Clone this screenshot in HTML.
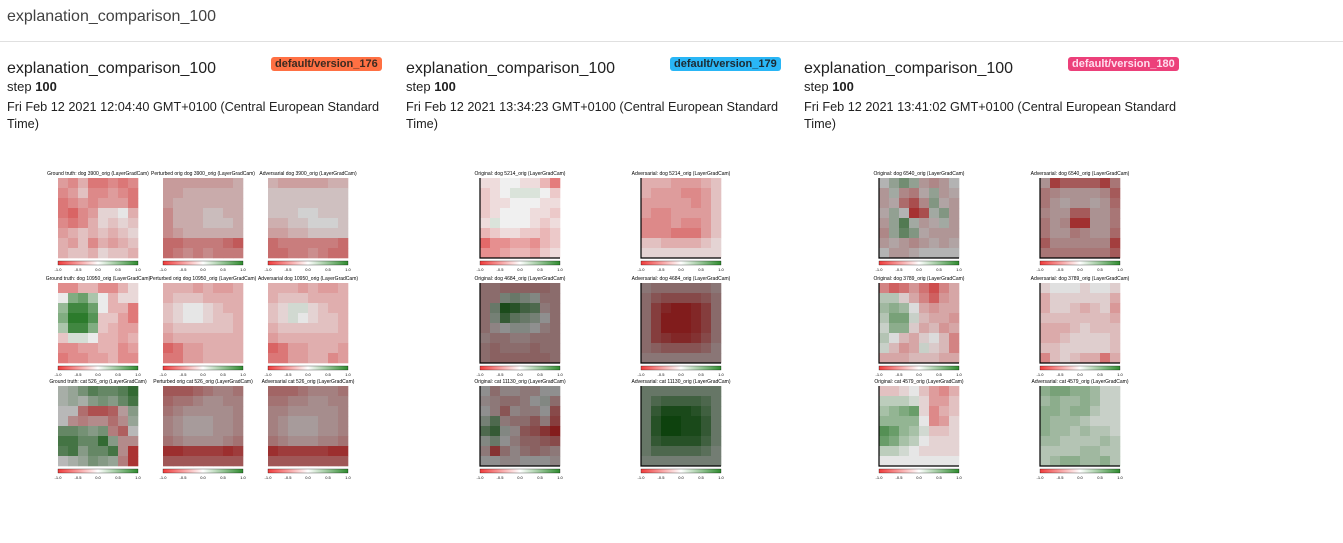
<!DOCTYPE html>
<html><head><meta charset="utf-8">
<style>
body{margin:0;width:1343px;height:543px;background:#fff;font-family:"Liberation Sans",sans-serif;color:#212121;position:relative;overflow:hidden}
.hdr{position:absolute;left:7px;top:8px;font-size:16px;color:#424242}
.div{position:absolute;left:0;top:41px;width:1343px;height:1px;background:#e0e0e0}
.card{position:absolute;top:58px;width:392px}
.ttl{position:absolute;left:0;top:2px;font-size:16px;color:#212121;white-space:nowrap}
.badge{position:absolute;top:-1px;height:14px;line-height:14px;padding:0 4px;border-radius:3px;font-size:11px;font-weight:bold;white-space:nowrap}
.step{position:absolute;left:0;top:21px;font-size:13px}
.date{position:absolute;left:0;top:41px;font-size:12.7px;line-height:17px;width:392px}
svg{position:absolute;left:0;top:0}
</style></head><body>
<div class="hdr">explanation_comparison_100</div>
<div class="div"></div>

<div class="card" style="left:7px">
 <div class="ttl">explanation_comparison_100</div>
 <div class="badge" style="left:264px;background:#ff7043;color:#3b2a20">default/version_176</div>
 <div class="step">step <b>100</b></div>
 <div class="date">Fri Feb 12 2021 12:04:40 GMT+0100 (Central European Standard Time)</div>
</div>
<div class="card" style="left:406px">
 <div class="ttl">explanation_comparison_100</div>
 <div class="badge" style="left:264px;background:#29b6f6;color:#1c2a33">default/version_179</div>
 <div class="step">step <b>100</b></div>
 <div class="date">Fri Feb 12 2021 13:34:23 GMT+0100 (Central European Standard Time)</div>
</div>
<div class="card" style="left:804px">
 <div class="ttl">explanation_comparison_100</div>
 <div class="badge" style="left:264px;background:#ec407a;color:#fde">default/version_180</div>
 <div class="step">step <b>100</b></div>
 <div class="date">Fri Feb 12 2021 13:41:02 GMT+0100 (Central European Standard Time)</div>
</div>

<svg id="maps" width="1343" height="543">
 <defs><linearGradient id="cb" x1="0" x2="1"><stop offset="0" stop-color="#f03c3c"/><stop offset="0.5" stop-color="#fff"/><stop offset="1" stop-color="#2e8b2e"/></linearGradient></defs>
</svg>
<script>
const titles=[
"Ground truth: dog 3900_orig (LayerGradCam)","Perturbed orig dog 3900_orig (LayerGradCam)","Adversarial dog 3900_orig (LayerGradCam)",
"Ground truth: dog 10950_orig (LayerGradCam)","Perturbed orig dog 10950_orig (LayerGradCam)","Adversarial dog 10950_orig (LayerGradCam)",
"Ground truth: cat 526_orig (LayerGradCam)","Perturbed orig cat 526_orig (LayerGradCam)","Adversarial cat 526_orig (LayerGradCam)",
"Original: dog 5214_orig (LayerGradCam)","Adversarial: dog 5214_orig (LayerGradCam)",
"Original: dog 4684_orig (LayerGradCam)","Adversarial: dog 4684_orig (LayerGradCam)",
"Original: cat 11130_orig (LayerGradCam)","Adversarial: cat 11130_orig (LayerGradCam)",
"Original: dog 6540_orig (LayerGradCam)","Adversarial: dog 6540_orig (LayerGradCam)",
"Original: dog 3789_orig (LayerGradCam)","Adversarial: dog 3789_orig (LayerGradCam)",
"Original: cat 4579_orig (LayerGradCam)","Adversarial: cat 4579_orig (LayerGradCam)"];
const brightness=[0.9,0.8,0.82,0.92,0.9,0.9,0.72,0.66,0.66,0.94,0.9,0.56,0.55,0.56,0.55,0.7,0.68,0.86,0.88,0.9,0.86];
const grids=[
[[-4,-5,-3,-6,-6,-5,-6,-5],[-5,-4,-2,-5,-5,-4,-5,-6],[-6,-5,-4,-5,-4,-4,-4,-6],[-6,-7,-5,-4,-1,-1,0,-3],[-5,-6,-5,-3,-1,-2,-1,-2],[-4,-3,-2,-3,-2,-3,-2,-1],[-3,-4,-2,-5,-3,-4,-3,-2],[-3,-2,-2,-3,-1,-2,-2,-3]],
[[-3,-3,-3,-3,-3,-3,-3,-2],[-3,-3,-2,-2,-2,-2,-2,-2],[-3,-2,-2,-2,-2,-2,-2,-2],[-4,-2,-2,-2,-1,-1,-2,-2],[-4,-2,-2,-2,-1,-1,-1,-2],[-4,-3,-2,-2,-2,-2,-2,-2],[-6,-6,-5,-5,-5,-5,-6,-7],[-6,-5,-4,-5,-4,-5,-5,-5]],
[[-2,-3,-3,-3,-3,-3,-2,-2],[-1,-1,-1,-1,-1,-1,-1,-1],[-1,-1,-1,-1,-1,-1,-1,-1],[-1,-1,-1,0,0,-1,-1,-1],[-2,-2,-1,-1,0,0,0,-1],[-3,-3,-2,-2,-1,-1,-1,-1],[-6,-5,-5,-5,-5,-5,-5,-6],[-6,-6,-5,-5,-4,-5,-6,-6]],
[[-5,-5,-3,-3,-5,-5,-3,-1],[0,5,6,3,0,-3,-1,-1],[4,8,8,6,0,-3,-3,-6],[5,9,9,7,-2,-2,-4,-6],[3,8,8,5,-2,-3,-4,-4],[-2,1,1,0,-3,-3,-4,-3],[-5,-5,-4,-4,-3,-3,-5,-4],[-6,-5,-5,-4,-4,-3,-5,-5]],
[[-3,-3,-3,-4,-3,-4,-4,-3],[-3,-2,-2,-2,-3,-3,-3,-3],[-2,-1,0,0,-1,-2,-3,-3],[-2,-1,0,0,-1,-2,-2,-3],[-3,-2,-2,-2,-2,-2,-2,-3],[-4,-3,-3,-3,-3,-3,-3,-3],[-7,-6,-4,-4,-3,-3,-3,-3],[-6,-6,-4,-4,-3,-3,-3,-3]],
[[-3,-3,-3,-4,-3,-4,-4,-3],[-3,-2,-2,-2,-3,-3,-3,-3],[-2,-1,1,1,-1,-2,-3,-3],[-2,-1,1,0,-1,-2,-2,-3],[-3,-2,-2,-2,-2,-2,-2,-3],[-4,-3,-3,-3,-3,-3,-3,-3],[-7,-6,-4,-4,-3,-3,-3,-4],[-6,-6,-4,-4,-3,-3,-5,-4]],
[[1,2,4,6,5,5,6,8],[1,2,1,3,4,3,5,7],[0,0,-5,-7,-7,-6,-2,3],[0,-3,-4,-3,-3,-5,-3,2],[5,5,4,3,4,-4,-6,0],[7,7,5,5,8,3,-3,-3],[6,7,3,5,5,7,-3,-9],[0,1,2,4,3,2,-4,-9]],
[[-6,-6,-6,-5,-4,-3,-3,-4],[-5,-4,-4,-3,-2,-2,-3,-3],[-4,-3,-2,-2,-2,-2,-2,-3],[-3,-2,-1,-1,-1,-2,-2,-3],[-3,-2,-1,-1,-1,-2,-2,-3],[-4,-3,-2,-2,-2,-2,-3,-4],[-9,-9,-8,-8,-8,-8,-9,-8],[-6,-6,-6,-6,-6,-6,-6,-6]],
[[-5,-5,-5,-4,-3,-3,-3,-4],[-4,-4,-3,-3,-2,-2,-3,-3],[-3,-3,-2,-2,-2,-2,-2,-3],[-3,-2,-1,-1,-1,-2,-2,-3],[-3,-2,-1,-1,-1,-2,-2,-3],[-4,-3,-2,-2,-2,-3,-3,-4],[-9,-8,-8,-8,-8,-8,-9,-9],[-6,-6,-6,-6,-6,-6,-6,-6]],
[[-1,-1,0,0,-1,-1,-3,-6],[-2,-1,0,1,1,1,0,-2],[-2,-1,-1,0,0,0,-1,-1],[-2,-1,0,0,0,-1,-1,-2],[-1,1,0,0,0,-1,-2,-1],[-3,-2,-1,-1,-2,-2,-3,-2],[-7,-5,-5,-4,-4,-5,-3,-2],[-5,-5,-4,-3,-3,-4,-2,-1]],
[[-3,-3,-3,-4,-4,-4,-3,-2],[-3,-4,-4,-4,-5,-5,-4,-2],[-4,-4,-4,-4,-4,-5,-4,-2],[-4,-5,-5,-4,-4,-4,-4,-2],[-5,-5,-5,-4,-5,-5,-4,-2],[-5,-5,-5,-6,-6,-6,-4,-2],[-2,-2,-3,-3,-3,-3,-2,-1],[-1,-1,-1,-1,-1,-1,-1,-1]],
[[-3,-3,-4,-4,-4,-4,-4,-3],[-3,-3,2,3,2,1,-3,-3],[-3,3,9,8,6,5,-2,-3],[-3,2,7,4,3,2,0,-3],[-3,-1,0,1,1,0,-2,-3],[-2,-3,-3,-2,-2,-3,-3,-3],[-3,-4,-3,-3,-3,-4,-3,-3],[-3,-4,-4,-4,-4,-4,-4,-3]],
[[-2,-3,-3,-3,-3,-3,-3,-2],[-3,-5,-6,-6,-6,-6,-5,-3],[-3,-7,-9,-10,-10,-9,-7,-3],[-3,-7,-10,-10,-10,-9,-7,-3],[-3,-7,-10,-10,-10,-9,-7,-3],[-3,-7,-8,-9,-9,-8,-6,-3],[-3,-4,-5,-5,-5,-5,-4,-2],[-2,-2,-2,-2,-2,-2,-2,-2]],
[[0,-3,-1,-1,-2,-2,0,0],[-1,-2,-3,-3,-2,0,1,-3],[0,-2,-5,-1,-2,-2,0,-6],[2,5,-2,-3,-3,-5,-2,-7],[5,7,1,-1,-5,-6,-8,-10],[1,3,0,-2,-4,-4,-5,-6],[-2,-8,-3,-1,-3,-4,-3,-2],[0,0,-1,-1,0,0,0,-1]],
[[3,3,3,3,3,3,3,3],[3,5,6,6,6,6,5,3],[3,7,9,9,9,8,6,3],[3,8,10,10,9,9,7,3],[3,8,10,10,9,9,7,3],[3,7,8,8,8,8,6,3],[3,5,5,5,5,5,4,2],[2,2,2,2,2,2,2,2]],
[[0,2,4,2,-2,-3,-2,0],[-2,1,-3,-4,-1,2,-2,-1],[-2,-1,-5,-7,-3,3,-1,-2],[-1,2,0,-9,-7,1,3,-2],[-2,2,6,1,-2,-1,1,-2],[-3,2,5,3,-1,-2,-2,-2],[-2,-1,-2,-3,-2,-1,-2,-1],[0,-2,-2,-1,0,0,0,0]],
[[-2,-8,-6,-6,-6,-6,-8,-4],[-4,-3,-2,-2,-2,-2,-3,-6],[-4,-2,-1,-2,-2,-1,-2,-5],[-3,-2,-2,-6,-6,-2,-2,-4],[-4,-2,-3,-9,-9,-2,-2,-4],[-4,-2,-2,-4,-3,-2,-2,-5],[-6,-3,-3,-3,-3,-3,-3,-8],[-4,-4,-4,-4,-4,-4,-4,-6]],
[[-5,-7,-6,-4,-6,-8,-5,-3],[2,2,-1,-3,-5,-7,-4,-3],[3,4,3,0,-3,-4,-3,-3],[2,5,5,1,-2,-3,-3,-4],[1,4,4,-1,-3,-2,-4,-3],[2,0,-2,-3,-1,0,-2,-5],[1,-2,-4,-3,1,-1,-2,-5],[-3,-3,-3,-2,-2,-2,-3,-3]],
[[-1,0,0,0,-1,0,0,-1],[-3,-1,-1,-1,-1,-1,-1,-3],[-3,-1,-1,-2,-3,-2,-1,-4],[-2,-2,-2,-2,-2,-2,-2,-3],[-3,-3,-3,-2,-1,-2,-2,-2],[-3,-3,-2,-1,-1,-1,-1,-2],[-2,-2,-1,-1,-1,-1,-1,-2],[-5,-2,-1,-2,-3,-3,-6,-3]],
[[-2,-2,-1,0,-2,-4,-5,-3],[2,2,2,1,-1,-4,-4,-2],[3,4,5,6,-1,-5,-3,-2],[4,4,4,4,0,-5,-4,-1],[7,6,4,3,1,-2,-2,-1],[6,5,3,2,0,-1,-1,-1],[2,2,1,0,-1,-1,-1,-1],[0,0,0,0,0,0,0,0]],
[[4,5,5,4,4,3,1,1],[3,4,3,3,4,3,1,1],[4,4,3,4,4,2,1,1],[4,3,3,3,2,1,1,1],[4,3,3,2,3,2,2,1],[3,3,2,2,2,2,3,2],[2,2,2,2,3,3,2,2],[2,3,4,4,3,3,4,2]]
];
const ticks=["-1.0","-0.5","0.0","0.5","1.0"];
const colX=[[58,163,268],[480,641],[879,1040]];
const rowY=[178,283,386];
const svg=document.getElementById('maps');
const NS='http://www.w3.org/2000/svg';
function col(v,b){v=Math.max(-1,Math.min(1,v/10));let r,g,bl;
 if(v<0){const t=-v;r=255+(235-255)*t;g=255+(50-255)*t;bl=255+(50-255)*t;}
 else{const t=v;r=255+(25-255)*t;g=255+(120-255)*t;bl=255+(25-255)*t;}
 return `rgb(${Math.round(r*b)},${Math.round(g*b)},${Math.round(bl*b)})`;}
function mk(tag,attrs){const e=document.createElementNS(NS,tag);for(const k in attrs)e.setAttribute(k,attrs[k]);svg.appendChild(e);return e;}
let idx=0;
colX.forEach((xs,p)=>{rowY.forEach((y0,r)=>{xs.forEach((x0,c)=>{
 const i=idx++;const g=grids[i],b=brightness[i];const W=80,cs=W/8;
 const t=mk('text',{x:x0+40,y:y0-3,'font-size':'5','text-anchor':'middle',fill:'#000'});t.textContent=titles[i];
 
 
 g.forEach((row,ri)=>row.forEach((v,ci)=>{const e=mk('rect',{x:x0+ci*cs,y:y0+ri*cs,width:cs+0.3,height:cs+0.3,fill:col(v,b)});
  
  }));
 if(p>0){const l=mk('path',{d:`M${x0} ${y0}V${y0+W}H${x0+W}`,stroke:'#000','stroke-width':'1.2',fill:'none'});
  
  }
 const cb=mk('rect',{x:x0,y:y0+83,width:W,height:4,fill:'url(#cb)',stroke:'#000','stroke-width':'0.3'});
 
 
 ticks.forEach((tk,k)=>{const tt=mk('text',{x:x0+k*W/4,y:y0+93,'font-size':'4','text-anchor':'middle',fill:'#000'});tt.textContent=tk;
  
  });
});});});
</script>
</body></html>
